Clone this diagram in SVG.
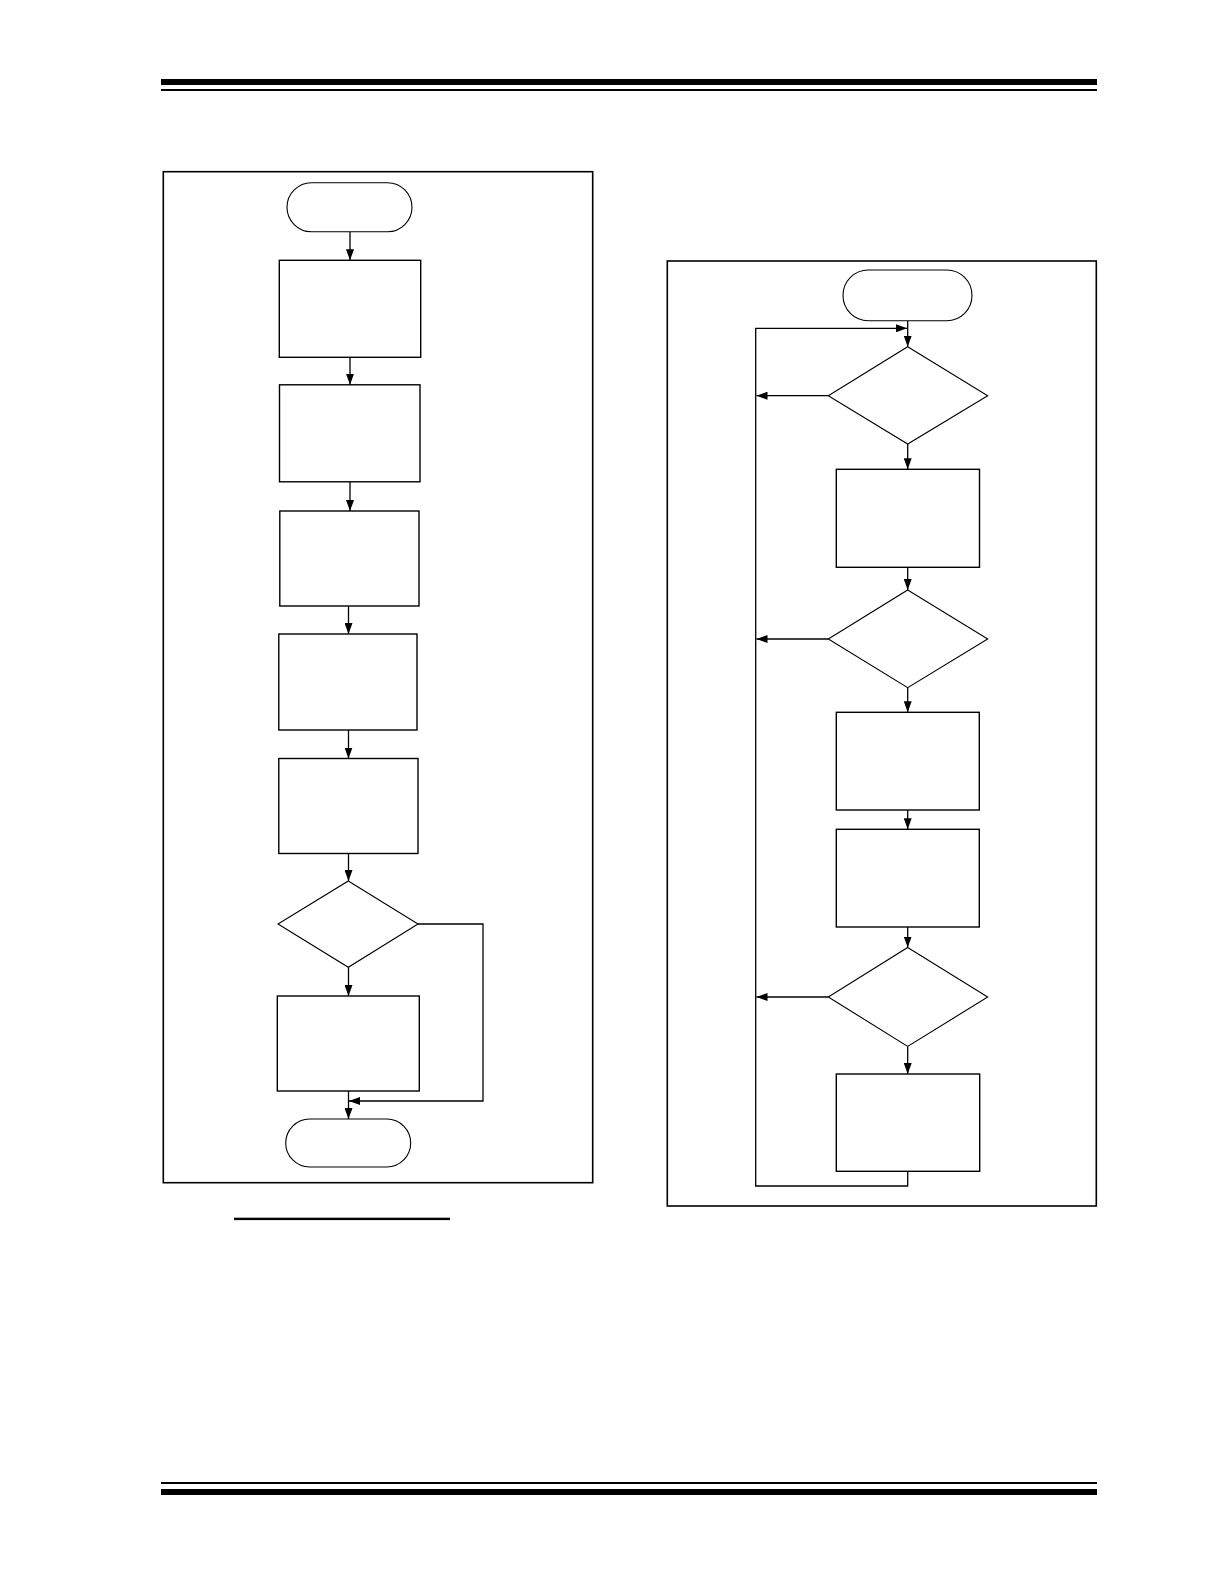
<svg xmlns="http://www.w3.org/2000/svg" width="1224" height="1584" viewBox="0 0 1224 1584">
<style>
.frame{fill:none;stroke:#000;stroke-width:1.6}
.box{fill:#fff;stroke:#000;stroke-width:1.4}
.term{fill:#fff;stroke:#000;stroke-width:1.1}
.dia{fill:#fff;stroke:#000;stroke-width:1.1}
.conn{fill:none;stroke:#000;stroke-width:1.3}
.arr{marker-end:url(#ah)}
</style>
<defs>
<marker id="ah" markerUnits="userSpaceOnUse" markerWidth="12" markerHeight="8" refX="11" refY="4" orient="auto">
<path d="M0,0 L11,4 L0,8 Z" fill="#000"/>
</marker>
</defs>
<rect x="0" y="0" width="1224" height="1584" fill="#fff"/>
<g id="header">
<rect x="161" y="79" width="936" height="6" fill="#000"/>
<rect x="161" y="89" width="936" height="2" fill="#000"/>
</g>
<g id="footer">
<rect x="161" y="1482" width="936" height="2" fill="#000"/>
<rect x="161" y="1489" width="936" height="6" fill="#000"/>
</g>
<g id="left-frame"><rect class="frame" x="163.3" y="171.7" width="429.4" height="1011"/></g>
<g id="right-frame"><rect class="frame" x="667.3" y="261" width="429" height="945"/></g>
<g id="caption-line"><rect x="234" y="1217.7" width="216" height="2.4" fill="#000"/></g>

<g id="connectors">
<line class="conn arr" x1="350" y1="231.7" x2="350" y2="260.3"/>
<line class="conn arr" x1="350" y1="357.3" x2="350" y2="384.8"/>
<line class="conn arr" x1="350" y1="481.8" x2="350" y2="511"/>
<line class="conn arr" x1="348.5" y1="606" x2="348.5" y2="634"/>
<line class="conn arr" x1="348.5" y1="730" x2="348.5" y2="758.5"/>
<line class="conn arr" x1="348.5" y1="853.5" x2="348.5" y2="881"/>
<line class="conn arr" x1="348.5" y1="967.3" x2="348.5" y2="996"/>
<line class="conn arr" x1="348.5" y1="1091" x2="348.5" y2="1119"/>
<polyline class="conn arr" points="418,924 483,924 483,1101 349,1101"/>

<line class="conn arr" x1="907.7" y1="320.7" x2="907.7" y2="346.7"/>
<polyline class="conn arr" points="907.7,1171.3 907.7,1186 755.7,1186 755.7,328.3 907,328.3"/>
<line class="conn arr" x1="828.3" y1="395.7" x2="756.5" y2="395.7"/>
<line class="conn arr" x1="907.7" y1="444" x2="907.7" y2="469.3"/>
<line class="conn arr" x1="907.7" y1="567.3" x2="907.7" y2="590"/>
<line class="conn arr" x1="828.3" y1="639" x2="756.5" y2="639"/>
<line class="conn arr" x1="907.7" y1="687.7" x2="907.7" y2="712.3"/>
<line class="conn arr" x1="907.7" y1="810" x2="907.7" y2="829.3"/>
<line class="conn arr" x1="907.7" y1="927" x2="907.7" y2="947.5"/>
<line class="conn arr" x1="828.3" y1="997" x2="756.5" y2="997"/>
<line class="conn arr" x1="907.7" y1="1046.4" x2="907.7" y2="1074"/>
</g>

<g id="L-start"><rect class="term" x="287" y="182.7" width="125" height="49" rx="24.5" ry="24.5"/></g>
<g id="L-box1"><rect class="box" x="279.3" y="260.3" width="141.4" height="97"/></g>
<g id="L-box2"><rect class="box" x="279.5" y="384.8" width="140.5" height="97"/></g>
<g id="L-box3"><rect class="box" x="279.8" y="511" width="139.2" height="95"/></g>
<g id="L-box4"><rect class="box" x="278.8" y="634" width="138.2" height="96"/></g>
<g id="L-box5"><rect class="box" x="278.8" y="758.5" width="139.2" height="95"/></g>
<g id="L-decision"><polygon class="dia" points="348.3,881 418,924 348.3,967.3 278,924"/></g>
<g id="L-box6"><rect class="box" x="277.3" y="996" width="142" height="95"/></g>
<g id="L-end"><rect class="term" x="285.7" y="1119" width="125" height="48" rx="24" ry="24"/></g>

<g id="R-start"><rect class="term" x="843" y="270" width="129" height="50.7" rx="25.3" ry="25.3"/></g>
<g id="R-decision1"><polygon class="dia" points="907.7,346.7 987.7,395.7 907.7,444 828.3,395.7"/></g>
<g id="R-box1"><rect class="box" x="836.3" y="469.3" width="143.2" height="98"/></g>
<g id="R-decision2"><polygon class="dia" points="907.7,590 987.7,639 907.7,687.7 828.3,639"/></g>
<g id="R-box2"><rect class="box" x="836.3" y="712.3" width="143" height="97.7"/></g>
<g id="R-box3"><rect class="box" x="836.3" y="829.3" width="143" height="97.7"/></g>
<g id="R-decision3"><polygon class="dia" points="907.7,947.5 987.7,997 907.7,1046.4 828.3,997"/></g>
<g id="R-box4"><rect class="box" x="836.3" y="1074" width="143.4" height="97.3"/></g>
</svg>
